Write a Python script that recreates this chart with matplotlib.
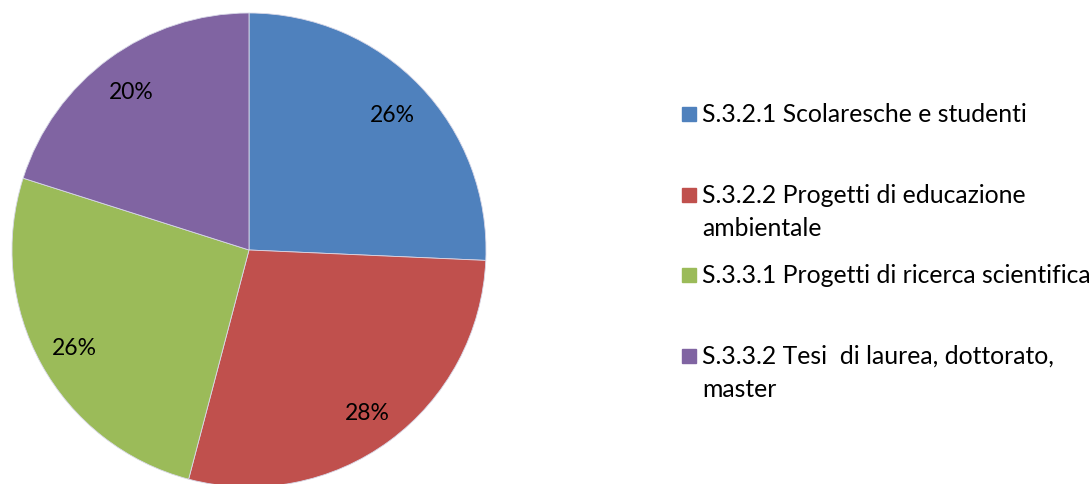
import matplotlib
matplotlib.use("Agg")
import matplotlib.pyplot as plt
from matplotlib.patches import Rectangle

plt.rcParams['font.family'] = ['Lato', 'DejaVu Sans']

labels = ["S.3.2.1 Scolaresche e studenti",
          "S.3.2.2 Progetti di educazione\nambientale",
          "S.3.3.1 Progetti di ricerca scientifica",
          "S.3.3.2 Tesi  di laurea, dottorato,\nmaster"]
values = [25.7, 28.4, 25.8, 20.1]
colors = ["#4F81BD", "#C0504D", "#9BBB59", "#8064A2"]

W, H = 1092, 485
fig = plt.figure(figsize=(W / 100, H / 100), dpi=100)

# pie centre (249, 251) px, radius 237 px
cx, cy, r = 249, 251, 237
ax = fig.add_axes([(cx - r) / W, (H - cy - r) / H, 2 * r / W, 2 * r / H])
wedges, texts, autotexts = ax.pie(values, colors=colors, startangle=90, counterclock=False,
                                  autopct='%.0f%%', pctdistance=0.84,
                                  wedgeprops=dict(edgecolor='#d8d8e8', linewidth=0.6),
                                  textprops=dict(fontsize=16.5, color='black'))
for t in autotexts:
    t.set_va('center_baseline')
ax.set_xlim(-1, 1)
ax.set_ylim(-1, 1)
ax.set_aspect('equal')
ax.axis('off')

# legend drawn by hand to keep the uneven spacing of the original
baselines = [122, 203, 283, 364]
line_gap = 33
for lab, col, y in zip(labels, colors, baselines):
    fig.patches.append(Rectangle((682 / W, (H - y) / H), 14 / W, 14 / H,
                                 transform=fig.transFigure, color=col))
    for i, line in enumerate(lab.split('\n')):
        fig.text(702 / W, (H - y - i * line_gap) / H, line, fontsize=17.8,
                 va='baseline', ha='left', transform=fig.transFigure)

fig.savefig("out.png", dpi=100)
